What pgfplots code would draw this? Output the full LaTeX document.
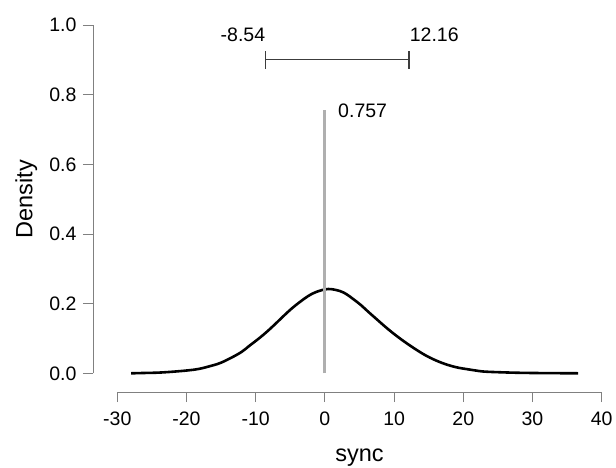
\documentclass[border=0pt]{standalone}
\usepackage{fontspec}
\setmainfont{Liberation Sans}
\usepackage{pgfplots}
\pgfplotsset{compat=1.18}
\definecolor{axgray}{RGB}{128,128,128}
\definecolor{linegray}{RGB}{175,175,175}
\definecolor{cigray}{RGB}{60,60,60}
\begin{document}
\begin{tikzpicture}
\begin{axis}[
    name=ax,
    scale only axis,
    width=484.4pt, height=348.3pt,
    xmin=-30, xmax=40, ymin=0, ymax=1,
    axis x line*=bottom, axis y line*=left,
    axis x line shift=18.7pt, axis y line shift=24.3pt,
    axis line style={axgray, line width=0.9pt, -},
    xtick={-30,-20,...,40},
    ytick={0,0.2,0.4,0.6,0.8,1.0},
    tick align=outside,
    major tick length=10pt,
    every tick/.style={axgray, line width=0.9pt},
    /pgf/number format/assume math mode=true,
    ticklabel style={font=\fontsize{19.5}{21}\selectfont},
    xticklabel style={yshift=-6pt},
    yticklabel style={xshift=-3pt, /pgf/number format/.cd, fixed, fixed zerofill, precision=1},
    xlabel={sync}, ylabel={Density},
    label style={font=\fontsize{23.5}{25}\selectfont},
    xlabel style={at={(axis description cs:0.5,0)}, anchor=base, yshift=-88pt},
    ylabel style={at={(axis description cs:0,0.5)}, anchor=center, yshift=91pt},
    clip=false,
]

% density curve
\addplot[black, line width=2.6pt, smooth, tension=0.6] coordinates {
(-28,0.000) (-26,0.001) (-24,0.002) (-21.7,0.005) (-19.5,0.009) (-18.1,0.013)
(-16.9,0.019) (-15.2,0.029) (-13.5,0.045) (-12,0.062) (-10.85,0.080) (-9.6,0.099)
(-8.4,0.119) (-7.2,0.141) (-6.0,0.164) (-4.8,0.186) (-3.6,0.205) (-2.4,0.222)
(-1.2,0.234) (0.5,0.242) (2.2,0.236) (3.2,0.226) (4.1,0.213)
(5.2,0.196) (6.3,0.176) (7.5,0.155) (8.7,0.134) (9.8,0.116) (10.85,0.100)
(12.2,0.081) (13.5,0.064) (14.6,0.051) (15.7,0.040) (16.9,0.030) (18.1,0.022)
(19.3,0.016) (20.5,0.012) (21.8,0.008) (23,0.005) (25.3,0.003) (28,0.0015)
(31,0.0007) (34,0.0003) (36.6,0.000)
};

% point estimate
\addplot[linegray, line width=3pt] coordinates {(0,0) (0,0.757)};
\node[anchor=west, inner sep=0pt, font=\fontsize{19.5}{21}\selectfont] at (axis cs:1.9,0.754) {0.757};

% credible interval
\addplot[cigray, line width=1.2pt] coordinates {(-8.54,0.9) (12.16,0.9)};
\addplot[cigray, line width=1.2pt] coordinates {(-8.54,0.875) (-8.54,0.925)};
\addplot[cigray, line width=1.2pt] coordinates {(12.16,0.875) (12.16,0.925)};
\node[anchor=east, inner sep=0pt, font=\fontsize{19.5}{21}\selectfont] at (axis cs:-8.6,0.972) {-8.54};
\node[anchor=west, inner sep=0pt, font=\fontsize{19.5}{21}\selectfont] at (axis cs:12.25,0.972) {12.16};

\end{axis}
\pgfresetboundingbox
\path (ax.south west) ++(-117.3pt,-93.7pt) rectangle ++(616pt,467pt);
\end{tikzpicture}
\end{document}
